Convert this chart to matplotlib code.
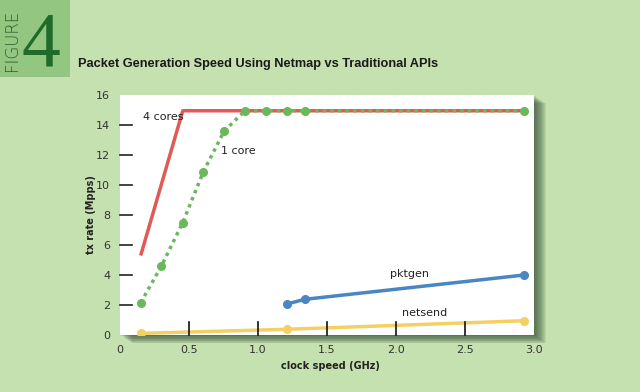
import matplotlib
matplotlib.use("Agg")
import matplotlib.pyplot as plt
from matplotlib.patches import Rectangle

# data
cores4_x = [0.15, 0.455, 2.93]
cores4_y = [5.3, 14.95, 14.95]
core1_x = [0.15, 0.30, 0.455, 0.605, 0.755, 0.905, 1.055, 1.21, 1.34, 2.93]
core1_y = [2.15, 4.6, 7.5, 10.9, 13.6, 14.95, 14.95, 14.95, 14.95, 14.95]
pktgen_x = [1.21, 1.34, 2.93]
pktgen_y = [2.07, 2.38, 4.0]
netsend_x = [0.15, 1.21, 2.93]
netsend_y = [0.11, 0.38, 0.95]

yticks = [2, 4, 6, 8, 10, 12, 14]
xticks = [0.5, 1.0, 1.5, 2.0, 2.5]
xlabels = ["0", "0.5", "1.0", "1.5", "2.0", "2.5", "3.0"]

bg = "#c5e1b0"
W, H = 640, 392

fig = plt.figure(figsize=(6.4, 3.92), dpi=100, facecolor=bg)

# figure number box
fig.patches.append(Rectangle((0, 1 - 77 / H), 70 / W, 77 / H, transform=fig.transFigure,
                             facecolor="#93c681", edgecolor="none", zorder=-2))
fig.text(12 / W, 1 - 40 / H, "FIGURE", rotation=90, ha="center", va="center",
         fontsize=12, color="#2f5e2f", fontweight="light", family="DejaVu Sans")
fig.text(41 / W, 1 - 66 / H, "4", ha="center", va="baseline", fontsize=56,
         color="#1f6b2a", family="Liberation Serif")
fig.text(78 / W, 1 - 67 / H, "Packet Generation Speed Using Netmap vs Traditional APIs",
         ha="left", va="baseline", fontsize=9.2, fontweight="bold", color="#1a1a1a",
         family="Liberation Sans")

# plot box with a soft shadow to the lower right
ax_l, ax_b, ax_w, ax_h = 120 / W, (H - 335) / H, 414 / W, 240 / H
for k in range(1, 13):
    fig.patches.append(Rectangle((ax_l + k / W, ax_b - k * 0.7 / H), ax_w, ax_h,
                                 transform=fig.transFigure, facecolor="#2f4a2f",
                                 edgecolor="none", alpha=0.09, zorder=-1))

ax = fig.add_axes([ax_l, ax_b, ax_w, ax_h])
ax.set_facecolor("white")
ax.set_xlim(0, 3.0)
ax.set_ylim(0, 16)
for s in ax.spines.values():
    s.set_visible(False)

ax.plot(cores4_x, cores4_y, color="#e05a57", lw=2.5, solid_capstyle="butt", zorder=3)
ax.plot(core1_x, core1_y, color="#6bb85c", lw=2.5, ls=(0, (1, 1.2)), zorder=4)
ax.plot(core1_x, core1_y, "o", color="#6bb85c", ms=5.5, zorder=5)
ax.plot(pktgen_x, pktgen_y, "o-", color="#4a86c4", lw=2.5, ms=5.5, zorder=4)
ax.plot(netsend_x, netsend_y, "o-", color="#f4cf63", lw=2.5, ms=5.5, zorder=4)

# inner tick marks
for y in yticks:
    ax.plot([0, 0.09], [y, y], color="#222222", lw=1.2, clip_on=False, zorder=6)
for x in xticks:
    ax.plot([x, x], [0, 0.85], color="#111111", lw=1.2, clip_on=False, zorder=6)

ax.set_xticks([0] + xticks + [3.0])
ax.set_xticklabels(xlabels)
ax.set_yticks([0] + yticks + [16])
ax.tick_params(length=0, labelsize=8, colors="#333333", pad=7)

ax.text(0.17, 14.55, "4 cores", fontsize=8, color="#222222", ha="left", va="center")
ax.text(0.73, 12.3, "1 core", fontsize=8, color="#222222", ha="left", va="center")
ax.text(1.96, 4.05, "pktgen", fontsize=8, color="#222222", ha="left", va="center")
ax.text(2.04, 1.45, "netsend", fontsize=8, color="#222222", ha="left", va="center")

fig.text(91 / W, 1 - 215 / H, "tx rate (Mpps)", rotation=90, ha="center", va="center",
         fontsize=7, fontweight="bold", color="#222222")
fig.text(330 / W, 1 - 366 / H, "clock speed (GHz)", ha="center", va="center",
         fontsize=7, fontweight="bold", color="#222222")

fig.savefig("out.png", dpi=100, facecolor=bg)
